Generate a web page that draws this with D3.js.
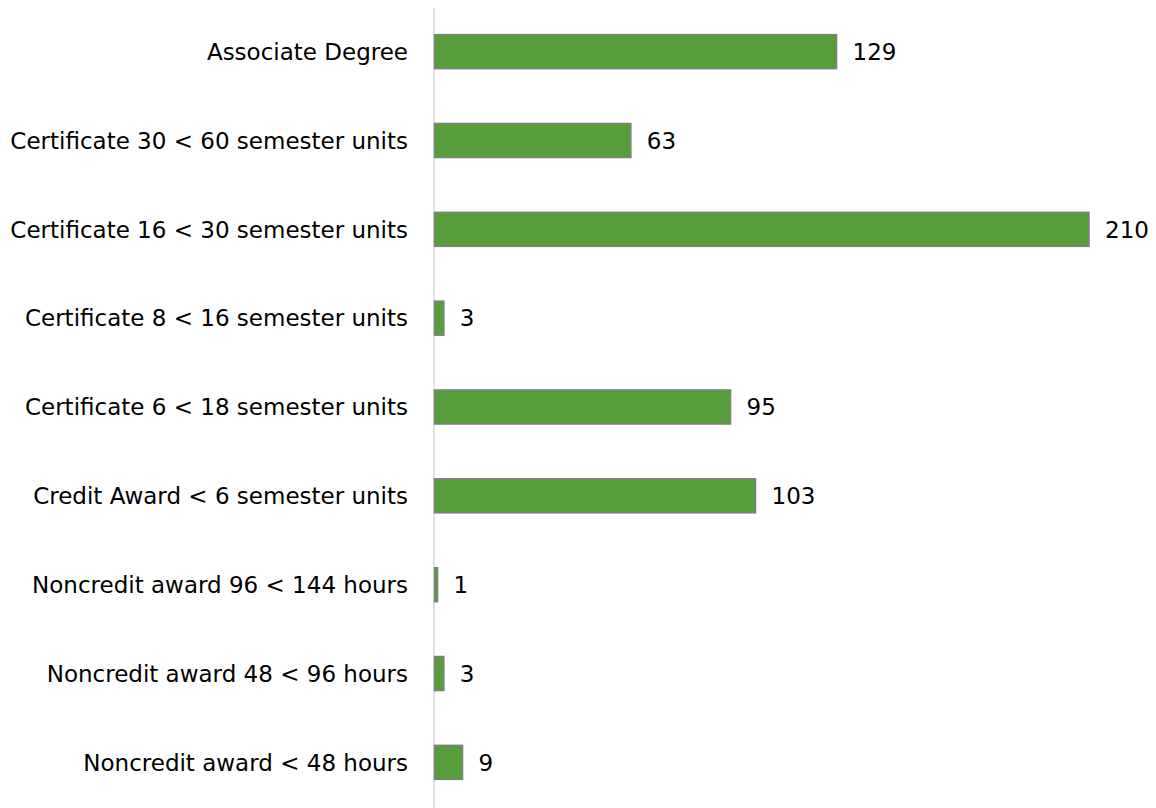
<!DOCTYPE html>
<html>
<head>
<meta charset="utf-8">
<script src="https://cdn.jsdelivr.net/npm/d3@7"></script>
<style>
  html, body { margin: 0; padding: 0; background: #ffffff; }
  svg { display: block; }
  text { font-family: "DejaVu Sans", sans-serif; fill: #000000; }
</style>
</head>
<body>
<svg id="chart" width="1156" height="808"></svg>
<script>
// Award counts by award type
const categories = [
  "Associate Degree",
  "Certificate 30 < 60 semester units",
  "Certificate 16 < 30 semester units",
  "Certificate 8 < 16 semester units",
  "Certificate 6 < 18 semester units",
  "Credit Award < 6 semester units",
  "Noncredit award 96 < 144 hours",
  "Noncredit award 48 < 96 hours",
  "Noncredit award < 48 hours"
];
const values = [129, 63, 210, 3, 95, 103, 1, 3, 9];

const svg = d3.select("#chart");

const x = d3.scaleLinear().domain([0, 210]).range([434.5, 1089]);
const y = d3.scaleBand().domain(categories).range([8, 806]).paddingInner(0.617).paddingOuter(0.3);

// vertical category axis line
svg.append("line")
  .attr("x1", x(0) - 0.5).attr("x2", x(0) - 0.5)
  .attr("y1", 8).attr("y2", 808)
  .attr("stroke", "#d9d9d9").attr("stroke-width", 1.5);

const rows = svg.selectAll("g.row").data(categories).enter().append("g").attr("class", "row");

rows.append("rect")
  .attr("x", x(0))
  .attr("y", d => y(d))
  .attr("width", (d, i) => x(values[i]) - x(0))
  .attr("height", y.bandwidth())
  .attr("fill", "#559E3A")
  .attr("stroke", "#808080")
  .attr("stroke-width", 1.5);

rows.append("text")
  .attr("x", 408)
  .attr("y", d => y(d) + y.bandwidth() / 2)
  .attr("dy", "0.36em")
  .attr("text-anchor", "end")
  .style("font-size", "23px")
  .text(d => d);

rows.append("text")
  .attr("x", (d, i) => x(values[i]) + 16)
  .attr("y", d => y(d) + y.bandwidth() / 2)
  .attr("dy", "0.36em")
  .style("font-size", "23px")
  .text((d, i) => values[i]);
</script>
</body>
</html>
